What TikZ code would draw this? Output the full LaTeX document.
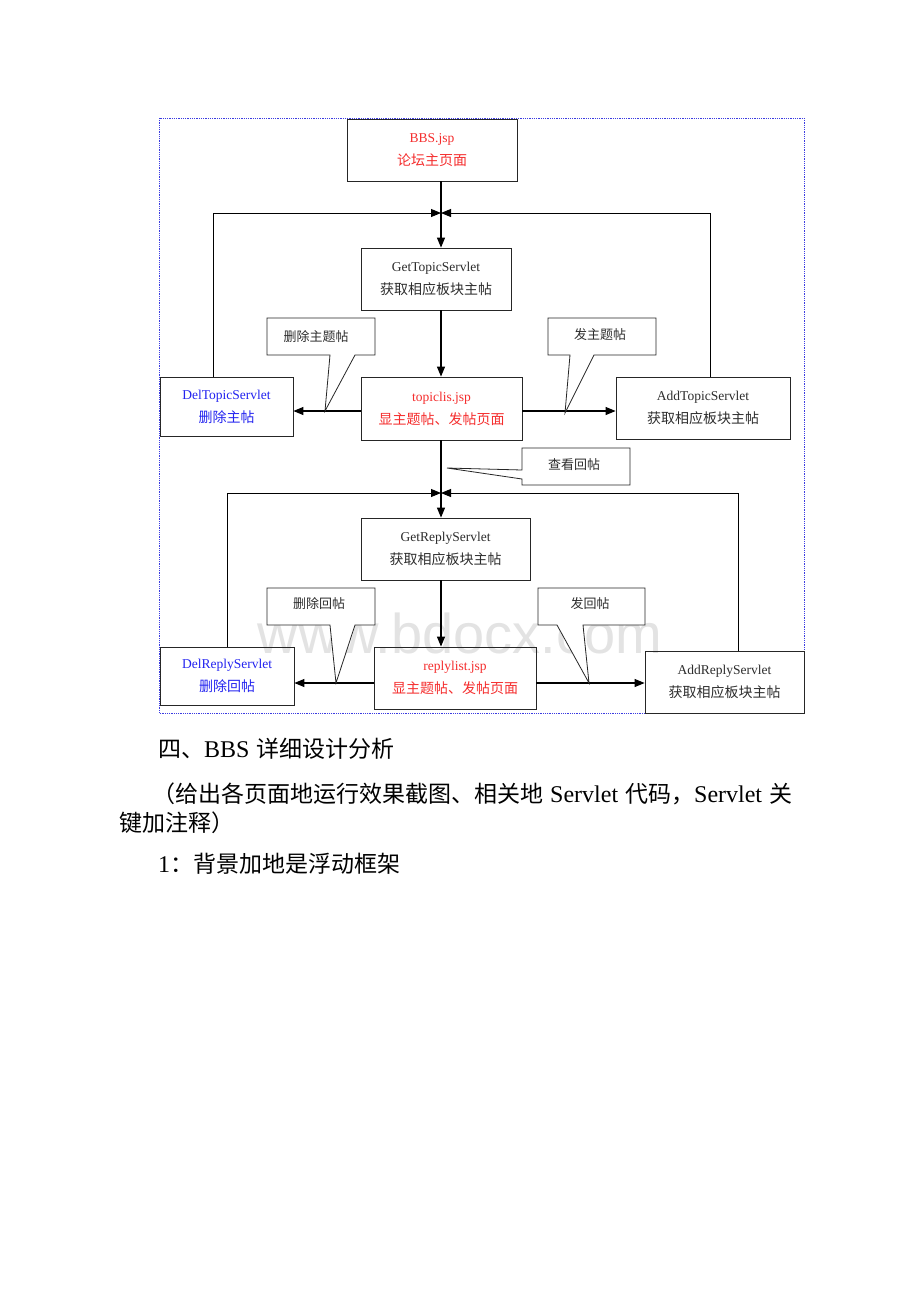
\documentclass[tikz,border=0pt]{standalone}
\usepackage{fontspec}
\setmainfont{Liberation Serif}
\newfontfamily\cjk{Noto Sans CJK SC}
\newfontfamily\wmfont{Liberation Sans}
\usetikzlibrary{arrows.meta,calc}
\definecolor{redtxt}{RGB}{245,45,45}
\definecolor{bluetxt}{RGB}{35,35,240}
\definecolor{framecol}{RGB}{60,60,225}
\definecolor{txtgray}{RGB}{45,45,45}
\newcommand{\gap}{\hspace{7pt}}
\newcommand{\zh}[1]{{\cjk\fontsize{14}{23}\selectfont #1}}
\newcommand{\zb}[1]{{\cjk\fontsize{23}{27}\selectfont #1}}
\begin{document}
\begin{tikzpicture}[x=1pt,y=-1pt,
  box/.style={draw=black!85,line width=0.8pt,inner sep=0pt,align=center,
    font=\fontsize{13.5}{23}\selectfont,text=txtgray},
  arr/.style={line width=1.1pt,-{Triangle[length=10pt,width=8pt]}},
  fb/.style={line width=0.9pt,-{Triangle[length=10pt,width=8pt]}},
  callout/.style={draw=black!85,line width=0.8pt},
  ctext/.style={font=\fontsize{13}{16}\selectfont\cjk,text=txtgray,inner sep=0pt},
  body/.style={anchor=base west,inner sep=0pt,font=\fontsize{24}{27}\selectfont}]
\useasboundingbox (0,0) rectangle (920,1302);
\fill[white] (0,0) rectangle (920,1302);

% watermark
\node[anchor=base,inner sep=0pt,text=black!11,font=\wmfont\fontsize{56}{60}\selectfont] (wm) at (460,653) {www.bdocx.com};

% frame
\draw[framecol,line width=0.8pt,dash pattern=on 0.9pt off 0.9pt] (159,118) rectangle (804,713);

% boxes
\node[box,minimum width=170,minimum height=62] (bbs) at (432,150) {\textcolor{redtxt}{BBS.jsp}\\\textcolor{redtxt}{\zh{论坛主页面}}};
\node[box,minimum width=150,minimum height=62] (gtopic) at (436,279) {GetTopicServlet\\\zh{获取相应板块主帖}};
\node[box,minimum width=161,minimum height=63] (topiclis) at (441.5,408.5) {\textcolor{redtxt}{topiclis.jsp}\\\textcolor{redtxt}{\zh{显主题帖、发帖页面}}};
\node[box,minimum width=133,minimum height=59] (deltopic) at (226.5,406.5) {\textcolor{bluetxt}{DelTopicServlet}\\\textcolor{bluetxt}{\zh{删除主帖}}};
\node[box,minimum width=174,minimum height=62] (addtopic) at (703,408) {AddTopicServlet\\\zh{获取相应板块主帖}};
\node[box,minimum width=169,minimum height=62] (greply) at (445.5,549) {GetReplyServlet\\\zh{获取相应板块主帖}};
\node[box,minimum width=162,minimum height=62] (replylist) at (455,678) {\textcolor{redtxt}{replylist.jsp}\\\textcolor{redtxt}{\zh{显主题帖、发帖页面}}};
\node[box,minimum width=134,minimum height=58] (delreply) at (227,676) {\textcolor{bluetxt}{DelReplyServlet}\\\textcolor{bluetxt}{\zh{删除回帖}}};
\node[box,minimum width=159,minimum height=62] (addreply) at (724.5,682) {AddReplyServlet\\\zh{获取相应板块主帖}};

% helper coordinates
\coordinate (j1) at (441,213);
\coordinate (j2) at (441,493);
\coordinate (lx1) at (213,0);
\coordinate (rx1) at (710,0);
\coordinate (lx2) at (227,0);
\coordinate (rx2) at (738,0);
\coordinate (ay1) at (0,411);
\coordinate (ay2) at (0,683);

% connectors
\draw[arr] (bbs.south -| j1) -- (gtopic.north -| j1);
\draw[fb] (deltopic.north -| lx1) |- (j1);
\draw[fb] (addtopic.north -| rx1) |- (j1);
\draw[arr] (gtopic.south -| j1) -- (topiclis.north -| j1);
\draw[arr] (topiclis.west |- ay1) -- (deltopic.east |- ay1);
\draw[arr] (topiclis.east |- ay1) -- (addtopic.west |- ay1);
\draw[arr] (topiclis.south -| j1) -- (greply.north -| j1);
\draw[fb] (delreply.north -| lx2) |- (j2);
\draw[fb] (addreply.north -| rx2) |- (j2);
\draw[arr] (greply.south -| j1) -- (replylist.north -| j1);
\draw[arr] (replylist.west |- ay2) -- (delreply.east |- ay2);
\draw[arr] (replylist.east |- ay2) -- (addreply.west |- ay2);

% callouts
\draw[callout,fill=white] (325,411) -- (330,355) -- (267,355) -- (267,318) -- (375,318) -- (375,355) -- (355,355) -- cycle;
\node[ctext] (c1) at (316,336.5) {删除主题帖};
\draw[callout,fill=white] (565,413) -- (570,355) -- (548,355) -- (548,318) -- (656,318) -- (656,355) -- (594,355) -- cycle;
\node[ctext] (c2) at (600,335) {发主题帖};
\draw[callout,fill=white] (447,468) -- (522,470) -- (522,448) -- (630,448) -- (630,485) -- (522,485) -- (522,479) -- cycle;
\node[ctext] (c3) at (574,465) {查看回帖};
\draw[callout,fill=white] (336,683) -- (330,625) -- (267,625) -- (267,588) -- (375,588) -- (375,625) -- (355,625) -- cycle;
\node[ctext] (c4) at (319,604) {删除回帖};
\draw[callout,fill=white] (589,683) -- (557,625) -- (538,625) -- (538,588) -- (645,588) -- (645,625) -- (583,625) -- cycle;
\node[ctext] (c5) at (590,604) {发回帖};

% body text
\node[body] (t1) at (158,757) {\zb{四、}BBS\gap\zb{详细设计分析}};
\node[body] (t2) at (152,802) {\zb{（给出各页面地运行效果截图、相关地}\gap Servlet\gap\zb{代码，}Servlet\gap\zb{关}};
\node[body] (t3) at (119,831) {\zb{键加注释）}};
\node[body] (t4) at (158,872) {1\zb{：背景加地是浮动框架}};
\end{tikzpicture}
\end{document}
